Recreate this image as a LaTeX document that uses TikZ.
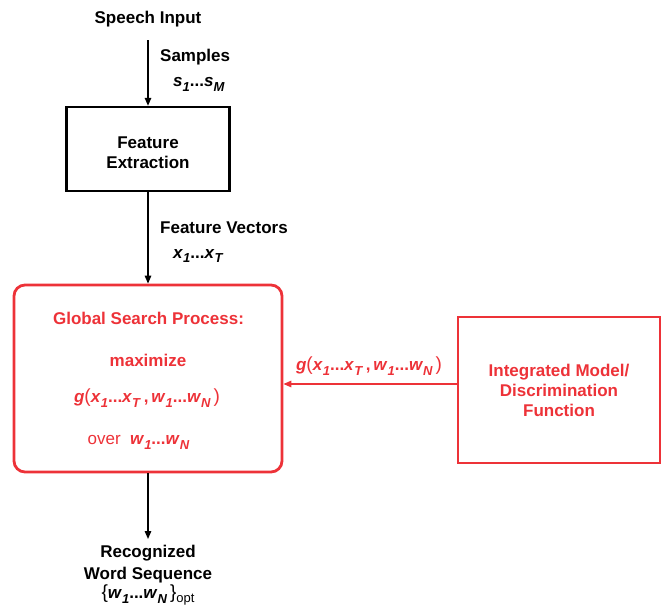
\documentclass[tikz,border=0pt]{standalone}
\usepackage{fontspec}
\setmainfont{Liberation Sans}
\usetikzlibrary{arrows.meta}
\definecolor{sred}{RGB}{237,50,56}
\newcommand{\ix}[2]{\textit{#1}\raisebox{-0.55ex}{\fontsize{13}{13}\selectfont\textit{#2}}}
\newcommand{\bigpar}[1]{{\mdseries\fontsize{19}{19}\selectfont #1}}
\tikzset{
  lbl/.style={font=\fontsize{17}{20}\selectfont\bfseries, align=center, inner sep=0pt},
  blk/.style={draw, line width=2.4pt, minimum width=163pt, minimum height=84pt},
  redblk/.style={draw=sred, line width=2.8pt, text=sred},
  arr/.style={line width=1.4pt, -{Triangle[length=8pt,width=6.5pt]}},
}
\begin{document}
\begin{tikzpicture}[x=1pt, y=-1pt]
  \useasboundingbox (0,0) rectangle (663,607);
  % main column
  \node[lbl] (input) at (148,19) {Speech Input};
  \node[blk] (fe) at (148,149) {};
  \node[lbl] (fetxt) at (148,153) {Feature\\Extraction};
  \node[redblk, rounded corners=11pt, minimum width=268pt, minimum height=187pt] (search) at (148,378.5) {};
  \node[lbl, anchor=north, font=\fontsize{17}{22}\selectfont\bfseries] (output) at (148,545) {Recognized\\Word Sequence\\[-3pt]
    \bigpar{\{}\ix{w}{1}...\ix{w}{N}\,\bigpar{\}}\raisebox{-0.45ex}{\mdseries\fontsize{13}{13}\selectfont opt}};
  % model box
  \node[redblk, lbl, minimum width=202pt, minimum height=146pt] (intg) at (559,390)
    {Integrated Model/\\Discrimination\\Function};
  % texts inside the search box
  \node[lbl, text=sred] (title) at (148.5,318) {Global Search Process:};
  \node[lbl, text=sred] (maxi) at (148,360) {maximize};
  \node[lbl, text=sred] (gfun) at (147,398)
    {\ix{g}{}\bigpar{(}\ix{x}{1}...\ix{x}{T}\,,\,\ix{w}{1}...\ix{w}{N}\,\bigpar{)}};
  \node[lbl, text=sred] (over) at (138.5,442) {{\mdseries over}\ \ \ix{w}{1}...\ix{w}{N}};
  % connector labels
  \node[lbl, anchor=west] (samp) at (160,57) {Samples};
  \node[lbl, anchor=west] (sidx) at (173,84) {\ix{s}{1}...\ix{s}{M}};
  \node[lbl, anchor=west] (fvec) at (160,228) {Feature Vectors};
  \node[lbl, anchor=west] (xidx) at (173,256) {\ix{x}{1}...\ix{x}{T}};
  \node[lbl, text=sred] (glab) at (369,366)
    {\ix{g}{}\bigpar{(}\ix{x}{1}...\ix{x}{T}\,,\,\ix{w}{1}...\ix{w}{N}\,\bigpar{)}};
  % connectors
  \draw[arr, shorten <=13pt] (input) -- (fe);
  \draw[arr] (fe) -- (search);
  \draw[arr, shorten >=6pt] (search) -- (output);
  \draw[arr, draw=sred, fill=sred] ([yshift=6pt]intg.west) -- ([yshift=6pt]intg.west -| search.east);
\end{tikzpicture}
\end{document}
